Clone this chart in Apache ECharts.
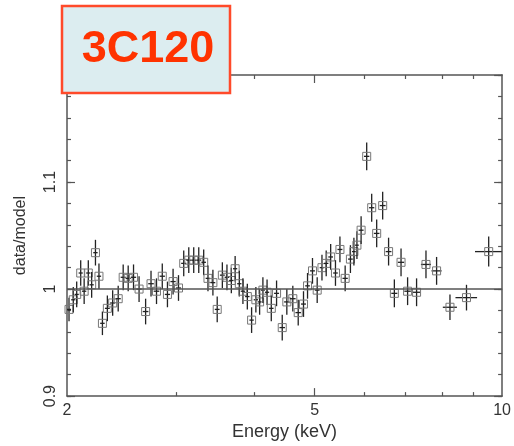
<!DOCTYPE html>
<html>
<head>
<meta charset="utf-8">
<script src="https://cdn.jsdelivr.net/npm/echarts@6/dist/echarts.min.js"></script>
<style>
html,body{margin:0;padding:0;background:#fff;}
#chart{width:514px;height:446px;}
</style>
</head>
<body>
<div id="chart"></div>
<script>
// Energy bin centres (keV)
var energy = [2.015, 2.047, 2.073, 2.104, 2.131, 2.164, 2.191, 2.222, 2.251, 2.280,
  2.322, 2.368, 2.417, 2.462, 2.508, 2.558, 2.611, 2.675, 2.729, 2.785,
  2.845, 2.900, 2.961, 3.021, 3.080, 3.138, 3.196, 3.256, 3.316, 3.369,
  3.431, 3.486, 3.553, 3.614, 3.673, 3.725, 3.783, 3.834, 3.897, 3.959,
  4.022, 4.078, 4.128, 4.192, 4.258, 4.342, 4.434, 4.510, 4.611, 4.704,
  4.797, 4.869, 4.959, 5.046, 5.136, 5.217, 5.304, 5.399, 5.489, 5.596,
  5.706, 5.780, 5.845, 5.936, 6.060, 6.173, 6.288, 6.429, 6.571, 6.713,
  6.881, 7.050, 7.288, 7.546, 7.848, 8.246, 8.766, 9.516];
// Energy half-widths (keV)
var energyErr = [0.015, 0.016, 0.016, 0.016, 0.017, 0.017, 0.017, 0.018, 0.018, 0.019,
  0.021, 0.022, 0.023, 0.023, 0.024, 0.025, 0.026, 0.028, 0.028, 0.029,
  0.028, 0.028, 0.029, 0.029, 0.029, 0.029, 0.029, 0.030, 0.028, 0.029,
  0.030, 0.031, 0.032, 0.031, 0.030, 0.029, 0.030, 0.031, 0.032, 0.032,
  0.032, 0.030, 0.030, 0.033, 0.036, 0.040, 0.045, 0.045, 0.048, 0.048,
  0.044, 0.042, 0.045, 0.045, 0.043, 0.043, 0.046, 0.046, 0.050, 0.055,
  0.050, 0.040, 0.040, 0.055, 0.060, 0.060, 0.065, 0.070, 0.070, 0.075,
  0.080, 0.085, 0.100, 0.140, 0.146, 0.215, 0.350, 0.470];
// data/model ratio
var ratio = [0.981, 0.990, 0.995, 1.015, 0.998, 1.015, 1.004, 1.034, 1.012, 0.968,
  0.982, 0.987, 0.991, 1.011, 1.010, 1.011, 1.000, 0.979, 1.005, 0.998,
  1.012, 0.995, 1.007, 1.001, 1.024, 1.027, 1.027, 1.027, 1.025, 1.010,
  1.006, 0.981, 1.013, 1.011, 1.008, 1.019, 1.005, 0.998, 0.993, 0.971,
  0.990, 0.988, 0.999, 0.997, 0.982, 0.996, 0.964, 0.988, 0.991, 0.978,
  0.986, 1.003, 1.017, 0.999, 1.020, 1.024, 1.030, 1.015, 1.037, 1.010,
  1.028, 1.035, 1.041, 1.055, 1.124, 1.076, 1.052, 1.078, 1.035, 0.996,
  1.025, 0.998, 0.997, 1.023, 1.017, 0.983, 0.992, 1.035];
// ratio 1-sigma errors
var ratioErr = [0.011, 0.012, 0.012, 0.012, 0.012, 0.012, 0.012, 0.012, 0.012, 0.011,
  0.012, 0.012, 0.012, 0.012, 0.012, 0.012, 0.012, 0.012, 0.012, 0.012,
  0.012, 0.012, 0.012, 0.012, 0.012, 0.012, 0.012, 0.012, 0.012, 0.012,
  0.012, 0.012, 0.012, 0.012, 0.012, 0.012, 0.012, 0.012, 0.012, 0.012,
  0.012, 0.012, 0.012, 0.012, 0.012, 0.012, 0.012, 0.012, 0.012, 0.012,
  0.012, 0.012, 0.012, 0.012, 0.012, 0.012, 0.012, 0.012, 0.012, 0.012,
  0.013, 0.013, 0.013, 0.013, 0.013, 0.013, 0.013, 0.013, 0.013, 0.013,
  0.013, 0.013, 0.013, 0.013, 0.013, 0.012, 0.012, 0.014];

var xMin = 2, xMax = 10;
var xLabelValues = [2, 5, 10];
var xMinorTicks = [3, 4, 6, 7, 8, 9];
var xMajorTicks = [5];
var yLabelValues = [0.9, 1, 1.1];
var titleText = '3C120';

var L = Math.log10;
var data = energy.map(function (e, i) {
  return [L(e), ratio[i], L(e - energyErr[i]), L(e + energyErr[i]), ratio[i] - ratioErr[i], ratio[i] + ratioErr[i]];
});

var axisColor = '#555';
var textColor = '#333';
var font = 'Liberation Sans';

function xAx(pos, ticks, len, showLine, showLabel) {
  var a = {
    type: 'value', position: pos, min: L(xMin), max: L(xMax),
    splitLine: {show: false},
    axisLine: {show: showLine, lineStyle: {color: axisColor, width: 1.5}},
    axisTick: {show: true, inside: true, length: len, customValues: ticks.map(L), lineStyle: {color: axisColor, width: 1.2}},
    axisLabel: {show: false}
  };
  if (showLabel) {
    a.axisLabel = {show: true, customValues: xLabelValues.map(L), margin: 6,
      formatter: function (v) { return String(Math.round(Math.pow(10, v))); },
      color: textColor, fontFamily: font, fontSize: 16};
    a.name = 'Energy (keV)';
    a.nameLocation = 'middle';
    a.nameGap = 22;
    a.nameTextStyle = {color: textColor, fontFamily: font, fontSize: 18};
  }
  return a;
}
function yAx(pos, interval, len, showLine, showLabel) {
  var a = {
    type: 'value', position: pos, min: 0.9, max: 1.2, interval: interval,
    splitLine: {show: false},
    axisLine: {show: showLine, lineStyle: {color: axisColor, width: 1.5}},
    axisTick: {show: true, inside: true, length: len, lineStyle: {color: axisColor, width: 1.2}},
    axisLabel: {show: false}
  };
  if (showLabel) {
    a.axisLabel = {show: true, customValues: yLabelValues, rotate: 90, margin: 8,
      formatter: function (v) { return String(Math.round(v * 10) / 10); },
      color: textColor, fontFamily: font, fontSize: 16};
    a.name = 'data/model';
    a.nameLocation = 'middle';
    a.nameGap = 38;
    a.nameTextStyle = {color: textColor, fontFamily: font, fontSize: 16};
  }
  return a;
}

var chart = echarts.init(document.getElementById('chart'), null, {renderer: 'canvas'});
chart.setOption({
  animation: false,
  backgroundColor: '#fff',
  grid: {left: 67, right: 11, top: 75, bottom: 48, containLabel: false},
  xAxis: [
    xAx('bottom', xMinorTicks, 4, true, true),
    xAx('bottom', xMajorTicks, 8, false, false),
    xAx('top', xMinorTicks, 4, true, false),
    xAx('top', xMajorTicks, 8, false, false)
  ],
  yAxis: [
    yAx('left', 0.02, 4, true, true),
    yAx('left', 0.1, 8, false, false),
    yAx('right', 0.02, 4, true, false),
    yAx('right', 0.1, 8, false, false)
  ],
  series: [{
    type: 'custom',
    xAxisIndex: 0, yAxisIndex: 0,
    data: data,
    clip: false,
    renderItem: function (params, api) {
      var x = api.value(0), y = api.value(1);
      var c = api.coord([x, y]);
      var pl = api.coord([api.value(2), y]);
      var ph = api.coord([api.value(3), y]);
      var pb = api.coord([x, api.value(4)]);
      var pt = api.coord([x, api.value(5)]);
      var s = 8;
      return {type: 'group', children: [
        {type: 'line', shape: {x1: pl[0], y1: c[1], x2: ph[0], y2: c[1]}, style: {stroke: '#222', lineWidth: 1.3}},
        {type: 'line', shape: {x1: c[0], y1: pt[1], x2: c[0], y2: pb[1]}, style: {stroke: '#222', lineWidth: 1.3}},
        {type: 'rect', shape: {x: c[0] - s / 2, y: c[1] - s / 2, width: s, height: s}, style: {fill: 'none', stroke: '#777', lineWidth: 1}}
      ]};
    },
    markLine: {
      silent: true, symbol: 'none', animation: false,
      label: {show: false},
      lineStyle: {color: '#555', width: 1.6, type: 'solid'},
      data: [{yAxis: 1}]
    }
  }],
  graphic: [
    {type: 'rect', z: 100, shape: {x: 62, y: 6, width: 168, height: 87},
      style: {fill: '#dcedf0', stroke: '#ff4a2a', lineWidth: 2.5}},
    {type: 'text', z: 101, x: 148, y: 50,
      style: {text: titleText, fill: '#ff3300', font: 'bold 45px "Liberation Sans"', textAlign: 'center', textVerticalAlign: 'middle'}}
  ]
});
</script>
</body>
</html>
